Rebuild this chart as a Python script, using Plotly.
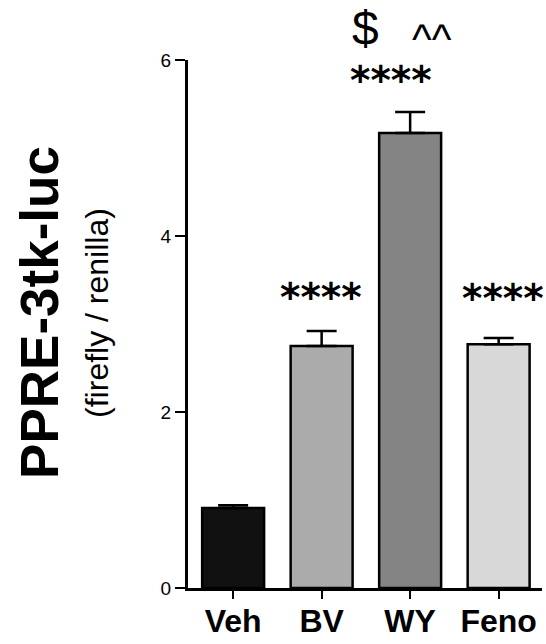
import plotly.graph_objects as go

categories = ["Veh", "BV", "WY", "Feno"]
means = [0.91, 2.75, 5.17, 2.77]
errors_up = [0.03, 0.17, 0.24, 0.07]
bar_colors = ["#111111", "#ababab", "#848484", "#d8d8d8"]
y_ticks = [0, 2, 4, 6]

FONT = "Liberation Sans, Arial"

fig = go.Figure()
fig.add_trace(go.Bar(
    x=categories, y=means,
    marker=dict(color=bar_colors, line=dict(color="black", width=2.5)),
    width=0.7,
    error_y=dict(type="data", symmetric=False, array=errors_up,
                 arrayminus=[0]*4, color="black", thickness=2.5, width=15),
    cliponaxis=False,
))

tops = [m + e for m, e in zip(means, errors_up)]
star_font = dict(family="DejaVu Sans", size=39, color="black")
fig.add_annotation(x="BV", y=tops[1], yshift=34, text="<b>****</b>", showarrow=False,
                   font=star_font, xshift=-1, yanchor="middle")
fig.add_annotation(x="Feno", y=tops[3], yshift=40, text="<b>****</b>", showarrow=False,
                   font=star_font, xshift=4, yanchor="middle")
fig.add_annotation(x="WY", y=tops[2], yshift=31, text="<b>****</b>", showarrow=False,
                   font=star_font, xshift=-19, yanchor="middle")
fig.add_annotation(x="WY", y=tops[2], yshift=83, text="$", showarrow=False,
                   font=dict(family=FONT, size=48, color="black"), xshift=-45, yanchor="middle")
fig.add_annotation(x="WY", y=tops[2], yshift=72, text="^^", showarrow=False,
                   font=dict(family=FONT, size=42, color="black"), xshift=22, yanchor="middle")

fig.add_annotation(xref="paper", yref="paper", x=-0.418, y=0.521, xanchor="center", yanchor="middle",
                   text="<b>PPRE-3tk-luc</b>", textangle=-90, showarrow=False,
                   font=dict(family=FONT, size=53, color="black"))
fig.add_annotation(xref="paper", yref="paper", x=-0.257, y=0.521, xanchor="center", yanchor="middle",
                   text="(firefly / renilla)", textangle=-90, showarrow=False,
                   font=dict(family=FONT, size=32, color="black"))

fig.update_layout(
    width=546, height=644,
    margin=dict(l=188, r=4, t=60, b=56, autoexpand=False),
    plot_bgcolor="white", paper_bgcolor="white",
    showlegend=False,
    xaxis=dict(range=[-0.51, 3.49], showline=True, linecolor="black", linewidth=3,
               ticks="outside", ticklen=8, tickwidth=2, tickcolor="black",
               tickfont=dict(family=FONT, size=32, color="black"), ticklabelstandoff=-5,
               showgrid=False, zeroline=False, automargin=False),
    yaxis=dict(range=[0, 6], tickvals=y_ticks, showline=True, linecolor="black", linewidth=3,
               ticks="outside", ticklen=10, tickwidth=2, tickcolor="black",
               tickfont=dict(family=FONT, size=19, color="black"),
               showgrid=False, zeroline=False, automargin=False),
)
fig.update_xaxes(tickprefix="<b>", ticksuffix="</b>")

fig.write_html("out.html")
